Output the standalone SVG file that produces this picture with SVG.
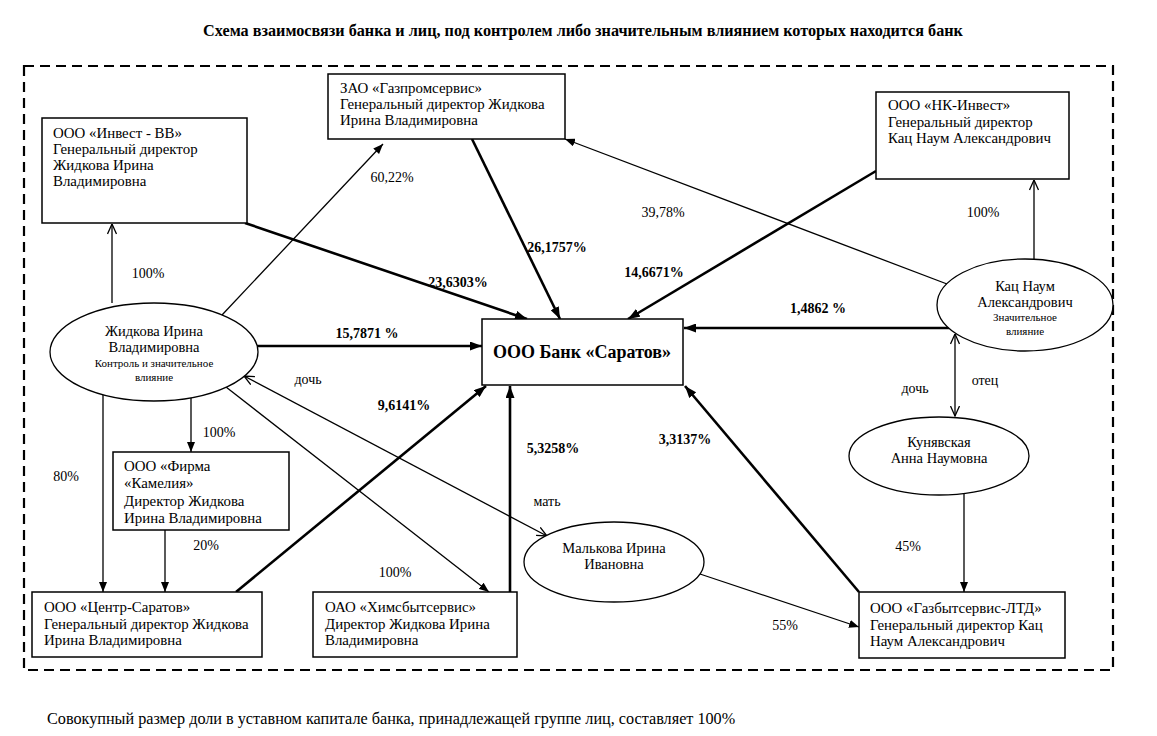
<svg xmlns="http://www.w3.org/2000/svg" width="1157" height="736" viewBox="0 0 1157 736">
<style>
text{font-family:"Liberation Serif","Times New Roman",serif;fill:#000}
.t{font-size:14px}
.bx{font-size:14.9px}
.b{font-size:14px;font-weight:bold}
.s{font-size:11px}
.m{text-anchor:middle}
.box{fill:#fff;stroke:#000;stroke-width:1.5}
.ell{fill:#fff;stroke:#000;stroke-width:1.3}
.thin{stroke:#000;stroke-width:1.3;fill:none}
.thick{stroke:#000;stroke-width:2.6;fill:none}
</style>
<defs>
<marker id="af" viewBox="0 0 12 9" refX="12" refY="4.5" markerWidth="12" markerHeight="9" markerUnits="userSpaceOnUse" orient="auto"><path d="M0,0 L12,4.5 L0,9 z" fill="#000"/></marker>
<marker id="afs" viewBox="0 0 10 8" refX="10" refY="4" markerWidth="10" markerHeight="8" markerUnits="userSpaceOnUse" orient="auto"><path d="M0,0 L10,4 L0,8 z" fill="#000"/></marker>
<marker id="ao" viewBox="0 0 11 10" refX="10.5" refY="5" markerWidth="11" markerHeight="10" markerUnits="userSpaceOnUse" orient="auto-start-reverse"><path d="M0.5,0.5 L10.5,5 L0.5,9.5" fill="none" stroke="#000" stroke-width="1.3"/></marker>
</defs>
<rect width="1157" height="736" fill="#fff"/>
<text class="b m" x="583" y="36" style="font-size:16.2px">Схема взаимосвязи банка и лиц, под контролем либо значительным влиянием которых находится банк</text>
<rect x="24" y="66" width="1089" height="604" fill="none" stroke="#000" stroke-width="2.2" stroke-dasharray="10,6"/>

<g id="connectors">
<line class="thin" x1="112" y1="303" x2="112" y2="224" marker-end="url(#ao)"/>
<line class="thin" x1="222" y1="315" x2="383" y2="144" marker-end="url(#afs)"/>
<line class="thick" x1="245" y1="223" x2="527" y2="319" marker-end="url(#af)"/>
<line class="thick" x1="472" y1="139" x2="560" y2="319" marker-end="url(#af)"/>
<line class="thick" x1="876" y1="171" x2="628" y2="319" marker-end="url(#af)"/>
<line class="thin" x1="947" y1="284" x2="565" y2="139" marker-end="url(#afs)"/>
<line class="thin" x1="1034" y1="259" x2="1034" y2="180" marker-end="url(#ao)"/>
<line class="thick" x1="949" y1="328" x2="684" y2="328" marker-end="url(#af)"/>
<line class="thick" x1="257" y1="346" x2="482" y2="346" marker-end="url(#af)"/>
<line class="thin" x1="955" y1="334" x2="955" y2="416" marker-start="url(#ao)" marker-end="url(#ao)"/>
<line class="thin" x1="964" y1="494" x2="964" y2="592" marker-end="url(#afs)"/>
<line class="thick" x1="859" y1="592" x2="685" y2="386" marker-end="url(#af)"/>
<line class="thin" x1="700" y1="574" x2="859" y2="627" marker-end="url(#afs)"/>
<line class="thin" x1="244" y1="376" x2="547" y2="536" marker-start="url(#ao)" marker-end="url(#ao)"/>
<line class="thin" x1="226" y1="387" x2="489" y2="592" marker-end="url(#afs)"/>
<line class="thick" x1="510" y1="592" x2="510" y2="386" marker-end="url(#af)"/>
<line class="thick" x1="236" y1="592" x2="486" y2="386" marker-end="url(#af)"/>
<line class="thin" x1="103" y1="395" x2="103" y2="592" marker-end="url(#afs)"/>
<line class="thin" x1="191" y1="398" x2="191" y2="452" marker-end="url(#afs)"/>
<line class="thin" x1="165" y1="530" x2="165" y2="592" marker-end="url(#afs)"/>
</g>

<g id="edge-labels">
<text class="t m" x="148" y="278">100%</text>
<text class="t m" x="392" y="182">60,22%</text>
<text class="b m" x="458" y="287">23,6303%</text>
<text class="b m" x="557" y="252">26,1757%</text>
<text class="t m" x="663" y="217">39,78%</text>
<text class="b m" x="654" y="277">14,6671%</text>
<text class="t m" x="983" y="217">100%</text>
<text class="b m" x="818" y="313">1,4862 %</text>
<text class="b m" x="367" y="338">15,7871 %</text>
<text class="t m" x="308" y="384">дочь</text>
<text class="b m" x="404" y="410">9,6141%</text>
<text class="b m" x="553" y="453">5,3258%</text>
<text class="b m" x="685" y="444">3,3137%</text>
<text class="t m" x="547" y="506">мать</text>
<text class="t m" x="219" y="437">100%</text>
<text class="t m" x="66" y="481">80%</text>
<text class="t m" x="206" y="550">20%</text>
<text class="t m" x="395" y="577">100%</text>
<text class="t m" x="785" y="630">55%</text>
<text class="t m" x="908" y="551">45%</text>
<text class="t m" x="915" y="393">дочь</text>
<text class="t m" x="985" y="385">отец</text>
</g>

<g id="invest-vv">
<rect class="box" x="42" y="118" width="205" height="105"/>
<text class="bx" x="53" y="138">ООО «Инвест - ВВ»</text>
<text class="bx" x="53" y="154">Генеральный директор</text>
<text class="bx" x="53" y="170">Жидкова Ирина</text>
<text class="bx" x="53" y="186">Владимировна</text>
</g>
<g id="gazpromservis">
<rect class="box" x="328" y="74" width="237" height="65"/>
<text class="bx" x="340" y="93">ЗАО «Газпромсервис»</text>
<text class="bx" x="340" y="109">Генеральный директор Жидкова</text>
<text class="bx" x="340" y="125">Ирина Владимировна</text>
</g>
<g id="nk-invest">
<rect class="box" x="876" y="92" width="193" height="87"/>
<text class="bx" x="888" y="110">ООО «НК-Инвест»</text>
<text class="bx" x="888" y="127">Генеральный директор</text>
<text class="bx" x="888" y="143">Кац Наум Александрович</text>
</g>
<g id="bank">
<rect class="box" x="482" y="319" width="201" height="66"/>
<text class="m" x="582" y="358" style="font-size:18px;font-weight:bold">ООО Банк «Саратов»</text>
</g>
<g id="zhidkova">
<ellipse class="ell" cx="154" cy="352" rx="104" ry="49"/>
<text class="m" x="154" y="336" style="font-size:14.5px">Жидкова Ирина</text>
<text class="m" x="154" y="352" style="font-size:14.5px">Владимировна</text>
<text class="s m" x="154" y="367">Контроль и значительное</text>
<text class="s m" x="154" y="381">влияние</text>
</g>
<g id="kats">
<ellipse class="ell" cx="1025" cy="305" rx="88" ry="46"/>
<text class="m" x="1025" y="291" style="font-size:14.5px">Кац Наум</text>
<text class="m" x="1025" y="307" style="font-size:14.5px">Александрович</text>
<text class="s m" x="1025" y="321">Значительное</text>
<text class="s m" x="1025" y="335">влияние</text>
</g>
<g id="kamelia">
<rect class="box" x="113" y="452" width="176" height="78"/>
<text class="bx" x="124" y="471">ООО «Фирма</text>
<text class="bx" x="124" y="488">«Камелия»</text>
<text class="bx" x="124" y="506">Директор Жидкова</text>
<text class="bx" x="124" y="523">Ирина Владимировна</text>
</g>
<g id="kunyavskaya">
<ellipse class="ell" cx="939" cy="456" rx="90" ry="39"/>
<text class="m" x="939" y="447" style="font-size:14.5px">Кунявская</text>
<text class="m" x="939" y="463" style="font-size:14.5px">Анна Наумовна</text>
</g>
<g id="malkova">
<ellipse class="ell" cx="614" cy="562" rx="90" ry="40"/>
<text class="m" x="614" y="553" style="font-size:14.5px">Малькова Ирина</text>
<text class="m" x="614" y="569" style="font-size:14.5px">Ивановна</text>
</g>
<g id="centr-saratov">
<rect class="box" x="32" y="592" width="230" height="65"/>
<text class="bx" x="44" y="612">ООО «Центр-Саратов»</text>
<text class="bx" x="44" y="629">Генеральный директор Жидкова</text>
<text class="bx" x="44" y="645">Ирина Владимировна</text>
</g>
<g id="khimbytservis">
<rect class="box" x="313" y="592" width="204" height="65"/>
<text class="bx" x="325" y="612">ОАО «Химсбытсервис»</text>
<text class="bx" x="325" y="629">Директор Жидкова Ирина</text>
<text class="bx" x="325" y="645">Владимировна</text>
</g>
<g id="gazbytservis">
<rect class="box" x="859" y="592" width="206" height="66"/>
<text class="bx" x="870" y="613">ООО «Газбытсервис-ЛТД»</text>
<text class="bx" x="870" y="630">Генеральный директор Кац</text>
<text class="bx" x="870" y="646">Наум Александрович</text>
</g>
<text x="47" y="724" style="font-size:16.2px">Совокупный размер доли в уставном капитале банка, принадлежащей группе лиц, составляет 100%</text>
</svg>
